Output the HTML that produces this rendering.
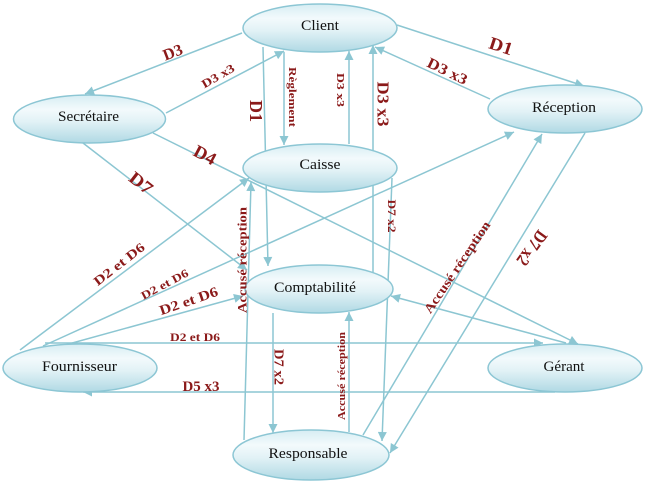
<!DOCTYPE html>
<html><head><meta charset="utf-8"><style>
html,body{margin:0;padding:0;background:#fff;}
svg{display:block;}
.n{font-family:"Liberation Serif",serif;font-size:15px;fill:#111;}
.l{font-family:"Liberation Serif",serif;font-weight:bold;fill:#8b1a1a;}
</style></head><body>
<svg width="645" height="484" viewBox="0 0 645 484" xmlns="http://www.w3.org/2000/svg">
<defs>
<marker id="a" viewBox="0 0 10 10" refX="10" refY="5" markerWidth="10" markerHeight="9" markerUnits="userSpaceOnUse" orient="auto">
<path d="M0,0 L10,5 L0,10 z" fill="#8cc6d2"/></marker>
<linearGradient id="g" x1="0" y1="0" x2="0" y2="1">
<stop offset="0" stop-color="#d6edf3"/>
<stop offset="0.3" stop-color="#f3fafc"/>
<stop offset="0.55" stop-color="#e2f2f6"/>
<stop offset="1" stop-color="#b0d9e4"/>
</linearGradient>
</defs>
<g stroke="#8cc6d2" stroke-width="1.5" fill="none" marker-end="url(#a)">
<line x1="242" y1="33" x2="85" y2="94"/>
<line x1="166" y1="113" x2="284" y2="51"/>
<line x1="284" y1="52" x2="284" y2="145"/>
<line x1="263" y1="47" x2="268" y2="266"/>
<line x1="349" y1="144" x2="349" y2="51"/>
<line x1="373" y1="277" x2="373" y2="45"/>
<line x1="397" y1="25" x2="584" y2="86"/>
<line x1="490" y1="99" x2="375" y2="47"/>
<line x1="83" y1="143" x2="247" y2="270"/>
<line x1="153" y1="133" x2="578" y2="344"/>
<line x1="20" y1="350" x2="249" y2="178"/>
<line x1="43" y1="346" x2="514" y2="132"/>
<line x1="65" y1="345" x2="243" y2="296"/>
<line x1="45" y1="343" x2="543" y2="343"/>
<line x1="555" y1="392" x2="83" y2="392"/>
<line x1="244" y1="440" x2="251" y2="182"/>
<line x1="273" y1="313" x2="273" y2="433"/>
<line x1="349" y1="432" x2="349" y2="312"/>
<line x1="392" y1="178" x2="382" y2="441"/>
<line x1="363" y1="435" x2="542" y2="134"/>
<line x1="585" y1="133" x2="390" y2="453"/>
<line x1="566" y1="343" x2="391" y2="296"/>
</g>
<g fill="url(#g)" stroke="#8cc6d4" stroke-width="1.5">
<ellipse cx="320" cy="28" rx="77" ry="24"/>
<ellipse cx="89.5" cy="119" rx="76" ry="24"/>
<ellipse cx="565" cy="109" rx="77" ry="24"/>
<ellipse cx="320" cy="168" rx="77" ry="24"/>
<ellipse cx="319" cy="289" rx="74" ry="24"/>
<ellipse cx="80" cy="368" rx="77" ry="24"/>
<ellipse cx="565" cy="368" rx="77" ry="24"/>
<ellipse cx="311" cy="455" rx="78" ry="25"/>
</g>
<g class="n" text-anchor="middle" dominant-baseline="central">
<text x="320" y="26" textLength="38" lengthAdjust="spacingAndGlyphs">Client</text>
<text x="88.5" y="117" textLength="61" lengthAdjust="spacingAndGlyphs">Secrétaire</text>
<text x="564" y="108" textLength="64" lengthAdjust="spacingAndGlyphs">Réception</text>
<text x="320" y="165" textLength="41" lengthAdjust="spacingAndGlyphs">Caisse</text>
<text x="315" y="288" textLength="82" lengthAdjust="spacingAndGlyphs">Comptabilité</text>
<text x="79.5" y="367" textLength="75" lengthAdjust="spacingAndGlyphs">Fournisseur</text>
<text x="564" y="367" textLength="41" lengthAdjust="spacingAndGlyphs">Gérant</text>
<text x="308" y="454" textLength="79" lengthAdjust="spacingAndGlyphs">Responsable</text>
</g>
<g class="l" text-anchor="middle" dominant-baseline="central">
<text transform="translate(173,53) rotate(-21)" font-size="16" textLength="20" lengthAdjust="spacingAndGlyphs">D3</text>
<text transform="translate(218,76) rotate(-30)" font-size="12" textLength="36" lengthAdjust="spacingAndGlyphs">D3 x3</text>
<text transform="translate(292,97) rotate(90)" font-size="11" textLength="60" lengthAdjust="spacingAndGlyphs">Règlement</text>
<text transform="translate(256,111) rotate(90)" font-size="18" textLength="22" lengthAdjust="spacingAndGlyphs">D1</text>
<text transform="translate(340,90) rotate(90)" font-size="11" textLength="34" lengthAdjust="spacingAndGlyphs">D3 x3</text>
<text transform="translate(383,104) rotate(90)" font-size="17" textLength="45" lengthAdjust="spacingAndGlyphs">D3 x3</text>
<text transform="translate(501,46) rotate(18)" font-size="18" textLength="24" lengthAdjust="spacingAndGlyphs">D1</text>
<text transform="translate(447,72) rotate(26)" font-size="15" textLength="43" lengthAdjust="spacingAndGlyphs">D3 x3</text>
<text transform="translate(205,155) rotate(28)" font-size="18" textLength="23" lengthAdjust="spacingAndGlyphs">D4</text>
<text transform="translate(141,183) rotate(38)" font-size="18" textLength="25" lengthAdjust="spacingAndGlyphs">D7</text>
<text transform="translate(119,264) rotate(-38)" font-size="13" textLength="61" lengthAdjust="spacingAndGlyphs">D2 et D6</text>
<text transform="translate(165,285) rotate(-28)" font-size="11.5" textLength="52" lengthAdjust="spacingAndGlyphs">D2 et D6</text>
<text transform="translate(189,302) rotate(-19)" font-size="14" textLength="61" lengthAdjust="spacingAndGlyphs">D2 et D6</text>
<text transform="translate(195,337)" font-size="12" textLength="50" lengthAdjust="spacingAndGlyphs">D2 et D6</text>
<text transform="translate(201,387)" font-size="15" textLength="37" lengthAdjust="spacingAndGlyphs">D5 x3</text>
<text transform="translate(242,260) rotate(-90)" font-size="13" textLength="106" lengthAdjust="spacingAndGlyphs">Accusé réception</text>
<text transform="translate(278,367) rotate(90)" font-size="14" textLength="36" lengthAdjust="spacingAndGlyphs">D7 x2</text>
<text transform="translate(342,376) rotate(-90)" font-size="11" textLength="88" lengthAdjust="spacingAndGlyphs">Accusé réception</text>
<text transform="translate(392,216) rotate(90)" font-size="12" textLength="33" lengthAdjust="spacingAndGlyphs">D7 x2</text>
<text transform="translate(457,267) rotate(-56)" font-size="13" textLength="108" lengthAdjust="spacingAndGlyphs">Accusé réception</text>
<text transform="translate(532,248) rotate(126)" font-size="18" textLength="39" lengthAdjust="spacingAndGlyphs">D7 x2</text>
</g>
</svg>
</body></html>
